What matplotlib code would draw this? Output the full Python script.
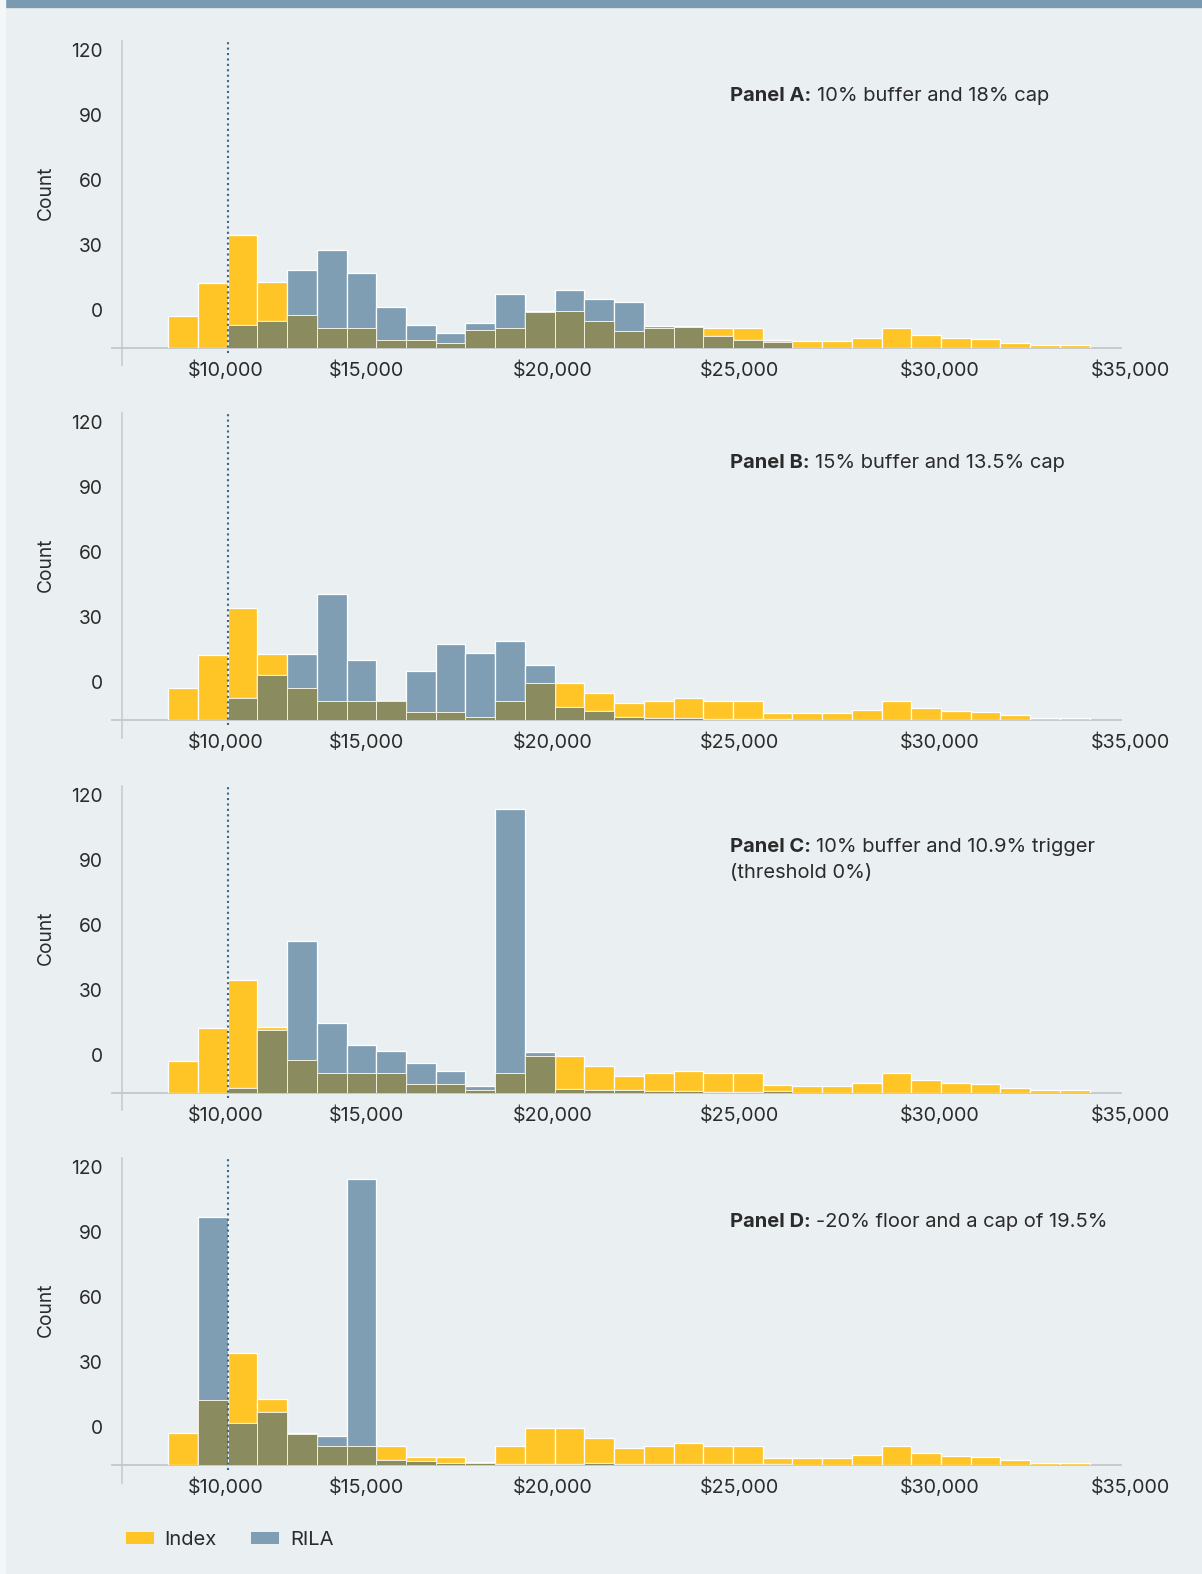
import numpy as np
import matplotlib.pyplot as plt
from matplotlib.patches import Patch, Rectangle

plt.rcParams['font.family'] = ['Inter', 'DejaVu Sans']

# ---- data (counts per bin, 31 equal-width bins) ----
index_counts = [14.7, 29.8, 51.7, 30.3, 14.9, 8.9, 8.9, 8.9, 3.7, 3.7, 1.2,
                8.9, 16.9, 16.9, 12.4, 7.7, 8.9, 10.0, 9.0, 9.0, 3.3, 3.2,
                3.2, 4.6, 9.0, 5.7, 4.2, 3.7, 2.2, 1.0, 1.0]
index_counts_a = [14.7, 29.8, 51.7, 30.3, 14.9, 8.9, 8.9, 3.5, 3.5, 2.2, 8.3,
                  8.9, 16.9, 16.9, 12.4, 7.7, 8.9, 10.0, 9.0, 9.0, 3.3, 3.2,
                  3.2, 4.6, 9.0, 5.7, 4.2, 3.7, 2.2, 1.0, 1.0]

rila_a = [0, 0, 10.2, 12.3, 35.7, 44.9, 34.3, 18.6, 10.2, 6.8, 11.2, 24.7,
          16.5, 26.5, 22.3, 21.2, 9.7, 9.5, 5.5, 3.4, 2.5, 0, 0, 0, 0, 0, 0,
          0, 0, 0, 0]
rila_b = [0, 0, 10.3, 20.8, 30.5, 58.2, 27.5, 8.7, 22.8, 35.1, 31.1, 36.3,
          25.2, 6.0, 4.1, 1.4, 0.8, 0.8, 0.5, 0.5, 0.5, 0, 0, 0, 0, 0, 0,
          0, 0, 0, 0]
rila_c = [0, 0, 2.2, 28.8, 69.7, 32.2, 21.8, 19.1, 13.4, 9.8, 2.9, 131.0,
          18.5, 1.5, 1.0, 1.0, 0.6, 0.6, 0.4, 0.4, 0.5, 0, 0, 0, 0, 0, 0,
          0, 0, 0, 0]
rila_d = [0, 114.3, 19.2, 24.6, 14.5, 13.2, 131.8, 2.3, 1.8, 1.1, 0.8, 0.5,
          0.5, 0.5, 0.8, 0.5, 0.5, 0.5, 0.5, 0.5, 0.3, 0, 0, 0, 0, 0, 0,
          0, 0, 0, 0]

panel_index = [index_counts_a, index_counts, index_counts, index_counts]
panel_rila = [rila_a, rila_b, rila_c, rila_d]
panel_bold = ["Panel A:", "Panel B:", "Panel C:", "Panel D:"]
panel_text = ["10% buffer and 18% cap",
              "15% buffer and 13.5% cap",
              "10% buffer and 10.9% trigger",
              "-20% floor and a cap of 19.5%"]
panel_extra = ["", "", "(threshold 0%)", ""]

ytick_labels = ["0", "30", "60", "90", "120"]
xtick_labels = ["$10,000", "$15,000", "$20,000", "$25,000", "$30,000", "$35,000"]

# ---- layout / style ----
W, H = 1202, 1574
BIN_PX = 29.72
EDGE0_PX = 168.3
PX_PER_COUNT = 65 / 30
baselines_px = [347.5, 720.0, 1092.5, 1465.0]
title_y = [115.9, 118.5, 113.3, 112.2]
xtick_pos = [1.92, 6.67, 12.94, 19.22, 25.96, 32.39]
ytick_pos = [16.5, 46.5, 76.5, 106.5, 136.5]
threshold_bin = 2

BG = "#eaeff2"
YELLOW = "#ffc426"
BLUE = "#7f9eb3"
OLIVE = "#8a8b5f"
TEXT = "#2b2b2b"
AXIS = "#c4c8cc"


def px2bin(px):
    return (px - EDGE0_PX) / BIN_PX


fig = plt.figure(figsize=(W / 100, H / 100), dpi=100, facecolor=BG)
fig.patches.append(Rectangle((0, 1 - 7 / H), 1, 7 / H, transform=fig.transFigure,
                             color="#7a9ab1", zorder=0))
fig.patches.append(Rectangle((0, 0), 5 / W, 1, transform=fig.transFigure,
                             color="#f4f7f8", zorder=0))

x_lo, x_hi = px2bin(112), px2bin(1121)
top_count = 307 / PX_PER_COUNT
ax_h = 307 / H

for i in range(4):
    base = baselines_px[i]
    ax = fig.add_axes([112 / W, (H - base) / H, (1121 - 112) / W, ax_h])
    ax.set_facecolor("none")
    for s in ax.spines.values():
        s.set_visible(False)
    ax.set_xlim(x_lo, x_hi)
    ax.set_ylim(0, top_count)
    ax.set_xticks([])
    ax.set_yticks([])

    idx = np.array(panel_index[i], dtype=float)
    rila = np.array(panel_rila[i], dtype=float)
    both = np.minimum(idx, rila)
    bins = np.arange(len(idx))

    # axis lines
    ax.plot([x_lo, x_hi], [0, 0], color=AXIS, lw=1.3, clip_on=False, zorder=1)
    sx = px2bin(121.7)
    ax.plot([sx, sx], [-17.5 / PX_PER_COUNT, top_count], color=AXIS, lw=1.1,
            clip_on=False, zorder=1)

    m = idx > 0
    ax.bar(bins[m], idx[m], width=1, align="edge", color=YELLOW,
           edgecolor="white", linewidth=0.9, zorder=2)
    m = rila > 0
    ax.bar(bins[m], rila[m], width=1, align="edge", color=BLUE,
           edgecolor="white", linewidth=0.9, zorder=3)
    m = both > 0
    ax.bar(bins[m], both[m], width=1, align="edge", color=OLIVE,
           edgecolor="#f3efe0", linewidth=0.7, zorder=4)

    ax.plot([threshold_bin, threshold_bin], [-5 / PX_PER_COUNT, top_count + 0.6],
            color="#3b6788", lw=1.5, linestyle=(0, (1, 1.6)), clip_on=False,
            zorder=5)

    for pos, lab in zip(xtick_pos, xtick_labels):
        ax.text(pos, -22.5 / PX_PER_COUNT, lab, ha="center", va="center",
                fontsize=14.2, color=TEXT, clip_on=False)
    for pos, lab in zip(ytick_pos, ytick_labels):
        ax.text(px2bin(102.6), pos, lab, ha="right", va="center",
                fontsize=13.8, color=TEXT, clip_on=False)
    ax.text(px2bin(46), 154.8 / PX_PER_COUNT, "Count", rotation=90,
            ha="center", va="center", fontsize=13.8, color=TEXT, clip_on=False)

    tb = ax.text(px2bin(730), title_y[i], panel_bold[i], ha="left", va="center",
                 fontsize=14.5, fontweight="bold", color=TEXT)
    ax.annotate(panel_text[i], xy=(1, 0), xycoords=tb, xytext=(4, 0),
                textcoords="offset points", ha="left", va="bottom",
                fontsize=14.5, color=TEXT)
    if panel_extra[i]:
        ax.text(px2bin(730), title_y[i] - 26 / PX_PER_COUNT, panel_extra[i],
                ha="left", va="center", fontsize=14.5, color=TEXT)

handles = [Patch(facecolor=YELLOW), Patch(facecolor=BLUE)]
fig.legend(handles, ["Index", "RILA"], loc="center left",
           bbox_to_anchor=(126 / W, 1 - 1540 / H), ncol=2, frameon=False,
           fontsize=14.5, handlelength=1.39, handleheight=0.6,
           handletextpad=0.53, columnspacing=1.7, borderpad=0,
           borderaxespad=0, labelcolor=TEXT)

fig.savefig("out.png", dpi=100, facecolor=BG)
